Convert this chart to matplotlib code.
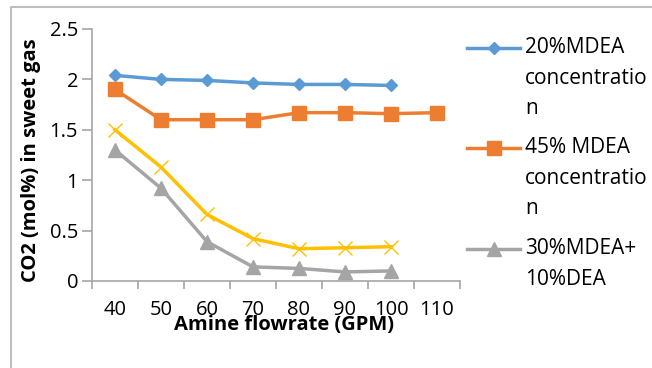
import matplotlib
matplotlib.use("Agg")
import matplotlib.pyplot as plt
from matplotlib.lines import Line2D
from matplotlib.ticker import FixedLocator, NullFormatter, FixedFormatter

plt.rcParams['font.family'] = ['Open Sans', 'DejaVu Sans']

# Amine flowrate categories (GPM)
flowrate_labels = ["40", "50", "60", "70", "80", "90", "100", "110"]

# CO2 (mol%) in sweet gas for each solvent
mdea20 = [2.04, 2.00, 1.99, 1.965, 1.95, 1.95, 1.94]
mdea45 = [1.90, 1.60, 1.60, 1.60, 1.67, 1.67, 1.66, 1.67]
series4 = [1.50, 1.13, 0.66, 0.42, 0.32, 0.33, 0.34]
mdea30_dea10 = [1.30, 0.92, 0.39, 0.14, 0.125, 0.09, 0.10]

legend_labels = ["20%MDEA\nconcentratio\nn", "45% MDEA\nconcentratio\nn", "30%MDEA+\n10%DEA"]

c_blue, c_orange, c_gray, c_yellow = "#5B9BD5", "#ED7D31", "#A5A5A5", "#FFC000"
axis_col = "#A6A6A6"

W, H = 652, 368
fig = plt.figure(figsize=(W / 100, H / 100), dpi=100)
ax = fig.add_axes([92 / W, 1 - 281 / H, (460 - 92) / W, (281 - 29) / H])

x4 = list(range(len(mdea20)))
x8 = list(range(len(mdea45)))

ax.plot(x4, mdea20, color=c_blue, lw=2.5, marker="D", ms=6.5, zorder=4)
ax.plot(x8, mdea45, color=c_orange, lw=2.5, marker="s", ms=9.5, zorder=4)
ax.plot(x4, series4, color=c_yellow, lw=2.5, marker="x", ms=9.5, mew=1.0, zorder=3)
ax.plot(x4, mdea30_dea10, color=c_gray, lw=2.5, marker="^", ms=9.5, zorder=3)

ax.set_xlim(-0.5, len(flowrate_labels) - 0.5)
ax.set_ylim(0, 2.5)

# category boundaries carry tick marks, centres carry the labels
ax.xaxis.set_major_locator(FixedLocator([i - 0.5 for i in range(len(flowrate_labels) + 1)]))
ax.xaxis.set_major_formatter(NullFormatter())
ax.xaxis.set_minor_locator(FixedLocator(x8))
ax.xaxis.set_minor_formatter(FixedFormatter(flowrate_labels))
ax.tick_params(axis="x", which="major", length=6, width=1.2, color=axis_col, direction="out")
ax.tick_params(axis="x", which="minor", length=0, pad=14, labelsize=14.5)

yt = [0, 0.5, 1, 1.5, 2, 2.5]
ax.set_yticks(yt)
ax.set_yticklabels(["0", "0.5", "1", "1.5", "2", "2.5"])
ax.tick_params(axis="y", length=7, width=1.2, color=axis_col, direction="out", pad=3, labelsize=14.5)

for s in ("top", "right"):
    ax.spines[s].set_visible(False)
for s in ("left", "bottom"):
    ax.spines[s].set_color(axis_col)
    ax.spines[s].set_linewidth(1.2)

fig.text(284 / W, 1 - 325 / H, "Amine flowrate (GPM)", ha="center", va="center",
         fontsize=14.5, fontweight="bold")
fig.text(31 / W, 1 - 160 / H, "CO2 (mol%) in sweet gas", ha="center", va="center",
         rotation=90, fontsize=14.5, fontweight="bold")

# legend drawn as handle lines with multi-line captions
entries = [(c_blue, "D", 6.5, 48), (c_orange, "s", 9.5, 148), (c_gray, "^", 9.5, 249)]
for (col, mk, ms, yy), lab in zip(entries, legend_labels):
    yf = 1 - yy / H
    fig.add_artist(Line2D([467 / W, 520 / W], [yf, yf], color=col, lw=2.5,
                          transform=fig.transFigure))
    fig.add_artist(Line2D([493.5 / W], [yf], color=col, marker=mk, ms=ms,
                          transform=fig.transFigure))
    fig.text(525 / W, yf + 11 / H, lab, ha="left", va="top", fontsize=15,
             linespacing=1.6)

# chart area border (left and top edges)
bc = "#BFBFBF"
fig.add_artist(Line2D([11 / W, 11 / W, 1.0], [0.0, 1 - 7 / H, 1 - 7 / H], color=bc,
                      lw=1.5, transform=fig.transFigure))

fig.savefig("out.png", dpi=100)
